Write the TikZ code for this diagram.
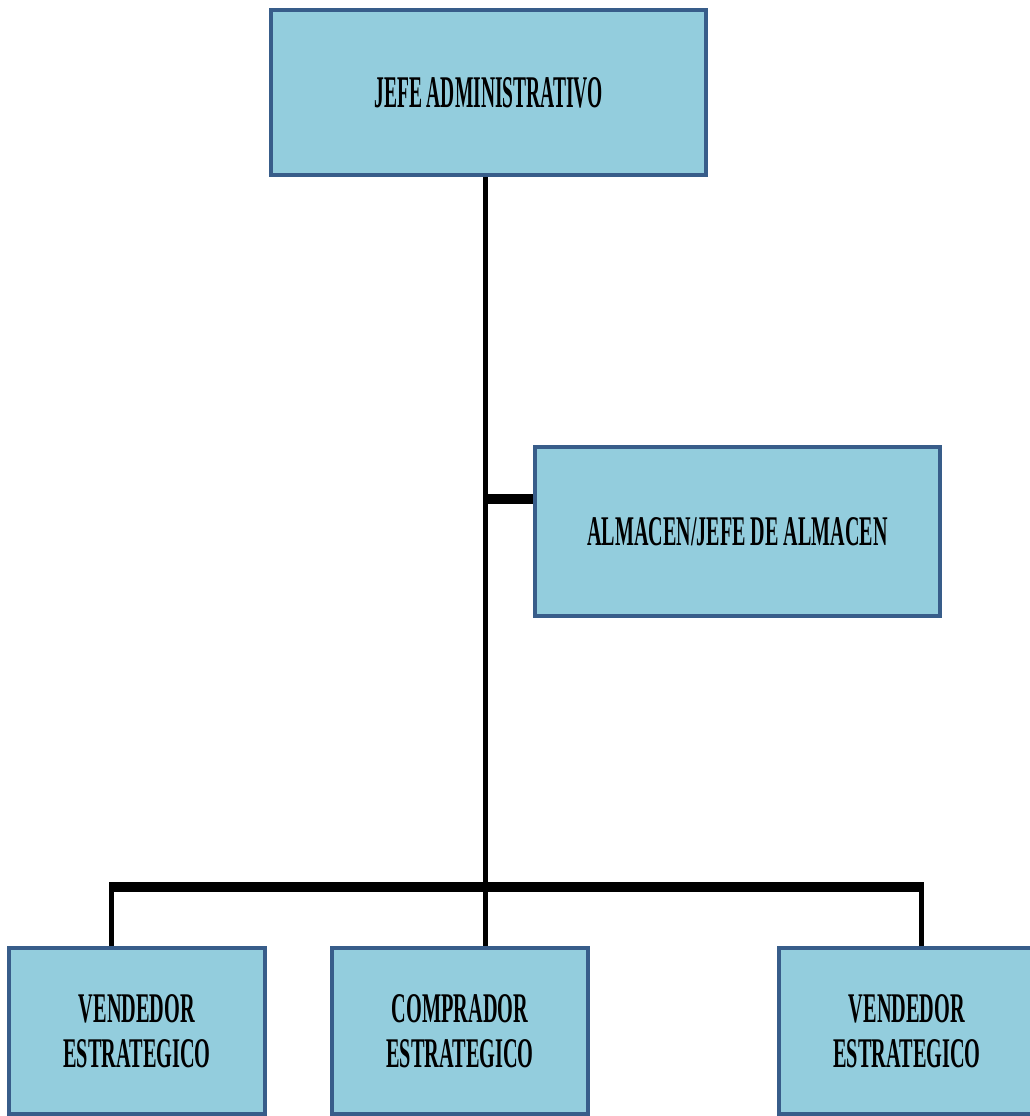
\documentclass[tikz,border=0pt]{standalone}
\usepackage{fontspec}
\setmainfont{Liberation Serif}
\definecolor{boxfill}{RGB}{147,205,221}
\definecolor{boxline}{RGB}{56,93,138}
\newcommand\sqz[2]{\scalebox{#1}[1]{#2}}
\begin{document}
\begin{tikzpicture}[x=0.75pt,y=-0.75pt,
  orgbox/.style={draw=boxline, fill=boxfill, line width=3pt, rectangle,
    inner sep=0pt, align=center, text=black},
  bigtxt/.style={font=\bfseries\fontsize{34}{40}\selectfont},
  smalltxt/.style={font=\bfseries\fontsize{31.7}{33.75}\selectfont},
  conn/.style={line width=3.75pt, black, line cap=butt},
  thickconn/.style={line width=7.5pt, black, line cap=butt}]
\useasboundingbox (0,0) rectangle (1030,1116);
\clip (0,0) rectangle (1030,1116);

% boxes
\node[orgbox, bigtxt, minimum width=326.25pt, minimum height=123.75pt] (top) at (488.5,92.5)
  {\sqz{0.43}{JEFE ADMINISTRATIVO}};
\node[orgbox, smalltxt, minimum width=303.75pt, minimum height=126.75pt] (alm) at (737.5,531.5)
  {\sqz{0.475}{ALMACEN/JEFE DE ALMACEN}};
\node[orgbox, smalltxt, minimum width=192pt, minimum height=124.5pt] (vl) at (137,1031)
  {\sqz{0.48}{VENDEDOR}\\\sqz{0.48}{ESTRATEGICO}};
\node[orgbox, smalltxt, minimum width=192pt, minimum height=124.5pt] (cm) at (460,1031)
  {\sqz{0.48}{COMPRADOR}\\\sqz{0.48}{ESTRATEGICO}};
\node[orgbox, smalltxt, minimum width=192pt, minimum height=124.5pt] (vr) at (907,1031)
  {\sqz{0.48}{VENDEDOR}\\\sqz{0.48}{ESTRATEGICO}};

% junction points
\coordinate (busL) at (111.5,887);
\coordinate (busM) at (485.5,887);
\coordinate (busR) at (921.5,887);
\coordinate (br) at (485.5,499);

% connectors
\draw[conn] (top.south -| busM) -- (busM);
\draw[thickconn] (br) -- (br -| alm.west);
\draw[thickconn] ([xshift=-1.875pt]busL) -- ([xshift=1.875pt]busR);
\draw[conn] ([yshift=-3.75pt]busL) -- (busL |- vl.north);
\draw[conn] (busM) -- (busM |- cm.north);
\draw[conn] ([yshift=-3.75pt]busR) -- (busR |- vr.north);
\end{tikzpicture}
\end{document}
